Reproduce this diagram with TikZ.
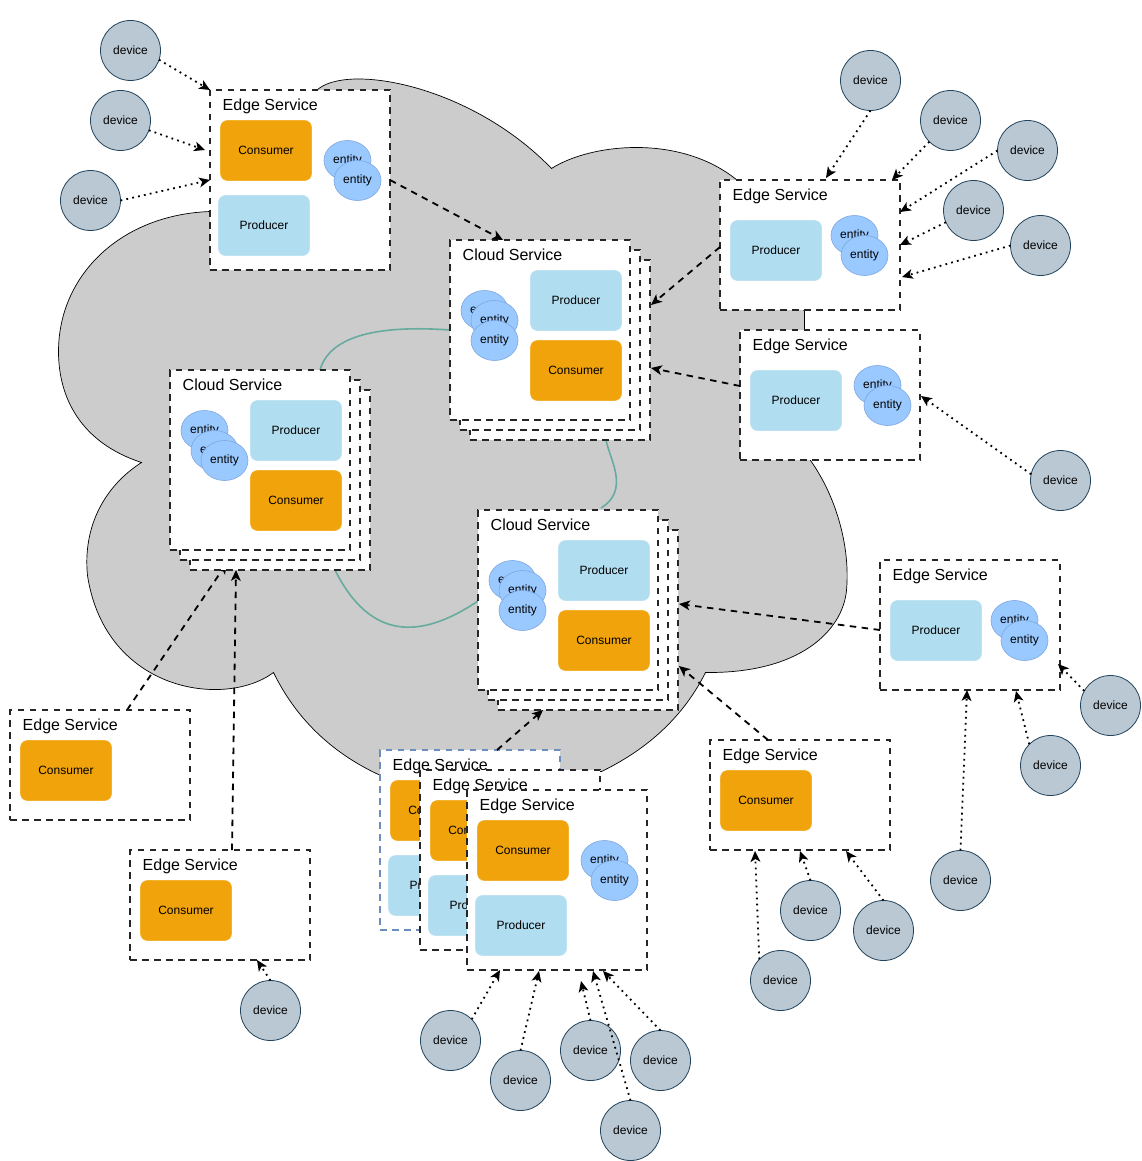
\documentclass[tikz,border=0pt]{standalone}
\usepackage{fontspec}
\setmainfont{Liberation Sans}
\usetikzlibrary{arrows.meta,shapes.geometric,calc}
\pgfdeclarelayer{bg}
\pgfsetlayers{bg,main}
\definecolor{cloudgrey}{HTML}{CCCCCC}
\definecolor{devfill}{HTML}{BAC8D3}
\definecolor{devline}{HTML}{23445D}
\definecolor{prodfill}{HTML}{B1DDF0}
\definecolor{consfill}{HTML}{F0A30A}
\definecolor{entfill}{HTML}{99C9FF}
\definecolor{entline}{HTML}{7EA6E0}
\definecolor{greenline}{HTML}{67AB9F}
\definecolor{blueline}{HTML}{6C8EBF}
\tikzset{
  svcbox/.style={draw=black!85,fill=white,line width=1.8pt,dash pattern=on 6.5pt off 5.5pt,inner sep=0pt,outer sep=0pt},
  bluebox/.style={svcbox,draw=blueline},
  svctitle/.style={anchor=base west,inner sep=0pt,font=\fontsize{16}{18}\selectfont},
  prodbox/.style={rectangle,rounded corners=7pt,fill=prodfill,draw=prodfill!85!white,line width=.6pt,minimum width=91pt,minimum height=60pt,inner sep=0pt,font=\fontsize{12}{14}\selectfont},
  consbox/.style={prodbox,fill=consfill,draw=consfill!85!white},
  entnode/.style={ellipse,fill=entfill,draw=entline,line width=.6pt,minimum width=47pt,minimum height=40pt,inner sep=0pt,font=\fontsize{12}{14}\selectfont},
  devnode/.style={circle,fill=devfill,draw=devline,line width=.8pt,minimum size=60pt,inner sep=0pt,outer sep=0pt,font=\fontsize{12}{14}\selectfont},
  tipped/.style={-{Stealth[length=11pt,width=10pt,inset=3pt,line width=0pt]}},
  dashlink/.style={tipped,draw=black,line width=1.8pt,dash pattern=on 6.5pt off 5.5pt},
  dotlink/.style={tipped,draw=black,line width=1.8pt,dash pattern=on 1.8pt off 4.2pt},
  greenlink/.style={draw=greenline,line width=1.6pt},
}
% name, x, y, w, h
\newcommand\svcnode[6][svcbox]{\node[#1,minimum width=#5pt,minimum height=#6pt] (#2) at ({#3+#5/2-0.5},{#4+#6/2-0.5}) {};}
% name, x, y, title
\newcommand\svcname[4]{\node[svctitle] (#1) at (#2+12,#3+20) {#4};}
\newcommand\stackone[3]{% name, x, y
  \svcnode{#1c}{#2+20}{#3+20}{180}{180}
  \svcnode{#1b}{#2+10}{#3+10}{180}{180}
  \svcnode{#1}{#2}{#3}{180}{180}
  \svcname{#1t}{#2}{#3}{Cloud Service}
  \node[prodbox] (#1p) at (#2+125.5,#3+60) {Producer};
  \node[consbox] (#1k) at (#2+125.5,#3+130) {Consumer};
}
\begin{document}
\begin{tikzpicture}[x=1pt,y=-1pt]
\useasboundingbox (-0.5,-0.5) rectangle (1140.5,1160.5);
\begin{pgfonlayer}{bg}
\draw[fill=cloudgrey,draw=black,line width=.7pt]
  (316,90) .. controls (345,62) and (470,84) .. (551,168)
  .. controls (590,143) and (680,133) .. (737,180)
  -- (804,311) -- (804,330) -- (810,460)
  .. controls (835,495) and (850,545) .. (846,590)
  .. controls (842,630) and (800,673) .. (705,672)
  .. controls (680,722) and (640,752) .. (601,771)
  -- (380,775)
  .. controls (330,752) and (295,717) .. (273,672)
  .. controls (225,708) and (105,692) .. (87,575)
  .. controls (82,525) and (105,485) .. (141,462)
  .. controls (80,442) and (58,397) .. (58,351)
  .. controls (58,275) and (120,214) .. (210,211)
  -- cycle;
\end{pgfonlayer}

% Edge services with producer, consumer and entities
\svcnode{e1}{210}{90}{180}{180}
\svcname{e1t}{210}{90}{Edge Service}
\node[consbox] (e1k) at (265.5,150) {Consumer};
\node[prodbox] (e1p) at (263.5,225) {Producer};
\node[entnode] (e1a) at (347,160) {entity};
\node[entnode] (e1z) at (357,180) {entity};

\svcnode{e2}{720}{180}{180}{130}
\svcname{e2t}{720}{180}{Edge Service}
\node[prodbox] (e2p) at (775.5,250) {Producer};
\node[entnode] (e2a) at (854,235) {entity};
\node[entnode] (e2z) at (864,255) {entity};

\svcnode{e3}{740}{330}{180}{130}
\svcname{e3t}{740}{330}{Edge Service}
\node[prodbox] (e3p) at (795.5,400) {Producer};
\node[entnode] (e3a) at (877,385) {entity};
\node[entnode] (e3z) at (887,405) {entity};

\svcnode{e4}{880}{560}{180}{130}
\svcname{e4t}{880}{560}{Edge Service}
\node[prodbox] (e4p) at (935.5,630) {Producer};
\node[entnode] (e4a) at (1014,620) {entity};
\node[entnode] (e4z) at (1024,640) {entity};

\svcnode{e5}{710}{740}{180}{110}
\svcname{e5t}{710}{740}{Edge Service}
\node[consbox] (e5k) at (765.5,800) {Consumer};

\svcnode{e6}{10}{710}{180}{110}
\svcname{e6t}{10}{710}{Edge Service}
\node[consbox] (e6k) at (65.5,770) {Consumer};

\svcnode{e7}{130}{850}{180}{110}
\svcname{e7t}{130}{850}{Edge Service}
\node[consbox] (e7k) at (185.5,910) {Consumer};

% Cloud services
\stackone{cu}{450}{240}
\node[entnode] (cua) at (484,310) {entity};
\node[entnode] (cum) at (494,320) {entity};
\node[entnode] (cuz) at (494,340) {entity};

\stackone{cl}{170}{370}
\node[entnode] (cla) at (204,430) {entity};
\node[entnode] (clm) at (214,450) {entity};
\node[entnode] (clz) at (224,460) {entity};

\stackone{cr}{478}{510}
\node[entnode] (cra) at (512,580) {entity};
\node[entnode] (crm) at (522,590) {entity};
\node[entnode] (crz) at (522,610) {entity};

% Stack of edge services
\svcnode[bluebox]{s1}{380}{750}{180}{180}
\svcname{s1t}{380}{750}{Edge Service}
\node[consbox] (s1k) at (435.5,810) {Consumer};
\node[prodbox] (s1p) at (433.5,885) {Producer};

\svcnode{s2}{420}{770}{180}{180}
\svcname{s2t}{420}{770}{Edge Service}
\node[consbox] (s2k) at (475.5,830) {Consumer};
\node[prodbox] (s2p) at (473.5,905) {Producer};

\svcnode{s3}{467}{790}{180}{180}
\node[svctitle] (s3t) at (479,810) {Edge Service};
\node[consbox] (s3k) at (522.5,850) {Consumer};
\node[prodbox] (s3p) at (520.5,925) {Producer};
\node[entnode] (s3a) at (604,860) {entity};
\node[entnode] (s3z) at (614,880) {entity};

% Devices
\node[devnode] (d1) at (130,50) {device};
\node[devnode] (d2) at (120,120) {device};
\node[devnode] (d3) at (90,200) {device};
\node[devnode] (d4) at (870,80) {device};
\node[devnode] (d5) at (950,120) {device};
\node[devnode] (d6) at (1027,150) {device};
\node[devnode] (d7) at (973,210) {device};
\node[devnode] (d8) at (1040,245) {device};
\node[devnode] (d9) at (1060,480) {device};
\node[devnode] (d10) at (1110,705) {device};
\node[devnode] (d11) at (1050,765) {device};
\node[devnode] (d12) at (960,880) {device};
\node[devnode] (d13) at (810,910) {device};
\node[devnode] (d14) at (883,930) {device};
\node[devnode] (d15) at (780,980) {device};
\node[devnode] (d16) at (270,1010) {device};
\node[devnode] (d17) at (450,1040) {device};
\node[devnode] (d18) at (520,1080) {device};
\node[devnode] (d19) at (590,1050) {device};
\node[devnode] (d20) at (660,1060) {device};
\node[devnode] (d21) at (630,1130) {device};

% Connectors beneath the boxes
\begin{pgfonlayer}{bg}
\draw[greenlink] ([shift={(150,0)}]cl.north west) .. controls ([shift={(160,-35)}]cl.north west) and ([shift={(-70,85)}]cu.north west) .. ([shift={(0,90)}]cu.north west);
\draw[greenlink] ([shift={(136,180)}]cuc.north west) .. controls ([shift={(140,200)}]cuc.north west) and ([shift={(152,-20)}]cr.north west) .. ([shift={(123,-2)}]cr.north west);
\draw[greenlink] ([shift={(145,180)}]clc.north west) .. controls ([shift={(180,250)}]clc.north west) and ([shift={(-58,130)}]cr.north west) .. ([shift={(0,91)}]cr.north west);
\draw[dashlink] ([shift={(117,0)}]e6.north west) -- ([shift={(37,173)}]clc.north west);
\end{pgfonlayer}

% Dashed connectors
\draw[dashlink] ([shift={(180,90)}]e1.north west) -- ([shift={(53,0)}]cu.north west);
\draw[dashlink] ([shift={(0,67)}]e2.north west) -- ([shift={(181,45)}]cuc.north west);
\draw[dashlink] ([shift={(0,56)}]e3.north west) -- ([shift={(181,108)}]cuc.north west);
\draw[dashlink] ([shift={(0,70)}]e4.north west) -- ([shift={(181,74)}]crc.north west);
\draw[dashlink] ([shift={(58,0)}]e5.north west) -- ([shift={(181,136)}]crc.north west);
\draw[dashlink] ([shift={(117,0)}]s1.north west) -- ([shift={(45,180)}]crc.north west);
\draw[dashlink] ([shift={(102,0)}]e7.north west) -- ([shift={(46,180)}]clc.north west);

% Dotted connectors
\draw[dotlink] (d1.-18) -- ([shift={(0,0)}]e1.north west);
\draw[dotlink] (d2.-19) -- ([shift={(-5,60)}]e1.north west);
\draw[dotlink] (d3.0) -- ([shift={(0,90)}]e1.north west);
\draw[dotlink] (d4.-90) -- ([shift={(106,-2)}]e2.north west);
\draw[dotlink] (d5.-135) -- ([shift={(172,0)}]e2.north west);
\draw[dotlink] (d6.180) -- ([shift={(180,32)}]e2.north west);
\draw[dotlink] (d7.203) -- ([shift={(180,65)}]e2.north west);
\draw[dotlink] (d8.180) -- ([shift={(182,97)}]e2.north west);
\draw[dotlink] (d9.168) -- ([shift={(181,66)}]e3.north west);
\draw[dotlink] (d10.151) -- ([shift={(178,104)}]e4.north west);
\draw[dotlink] (d11.135) -- ([shift={(136,131)}]e4.north west);
\draw[dotlink] (d12.90) -- ([shift={(87,130)}]e4.north west);
\draw[dotlink] (d13.90) -- ([shift={(90,111)}]e5.north west);
\draw[dotlink] (d14.90) -- ([shift={(136,111)}]e5.north west);
\draw[dotlink] (d15.135) -- ([shift={(45,111)}]e5.north west);
\draw[dotlink] (d16.90) -- ([shift={(127,110)}]e7.north west);
\draw[dotlink] (d17.45) -- ([shift={(33,180)}]s3.north west);
\draw[dotlink] (d18.90) -- ([shift={(72,181)}]s3.north west);
\draw[dotlink] (d19.90) -- ([shift={(114,191)}]s3.north west);
\draw[dotlink] (d20.90) -- ([shift={(136,181)}]s3.north west);
\draw[dotlink] (d21.90) -- ([shift={(126,181)}]s3.north west);
\end{tikzpicture}
\end{document}
